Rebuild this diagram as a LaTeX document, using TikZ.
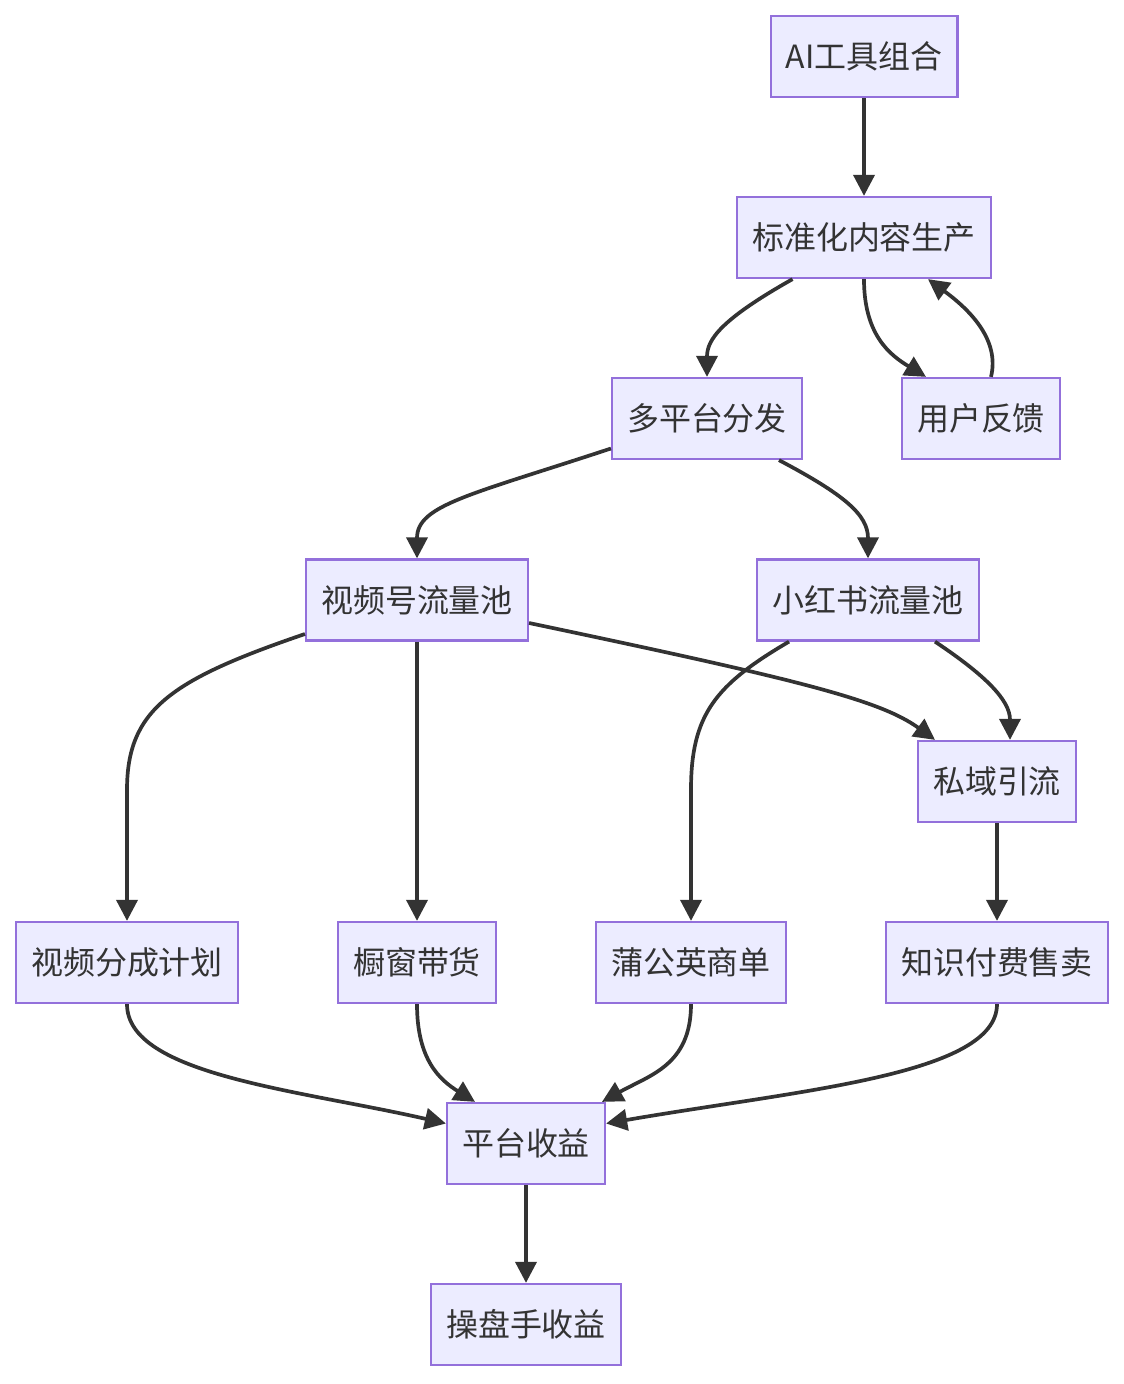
\documentclass[tikz,border=0pt]{standalone}
\usepackage{fontspec}
\setmainfont{Noto Sans CJK SC}
\usepackage{tikz}
\usetikzlibrary{arrows.meta}
\definecolor{mmfill}{HTML}{ECECFF}
\definecolor{mmline}{HTML}{9370DB}
\definecolor{mmedge}{HTML}{333333}
\tikzset{
  flownode/.style={rectangle,draw=mmline,fill=mmfill,line width=1.3pt,minimum height=1.62cm,
    inner xsep=0.3cm,text=mmedge,font=\fontsize{18.2}{22}\selectfont},
  flowedge/.style={-{Triangle[length=12pt,width=12pt]},line width=2.1pt,mmedge},
}
\begin{document}
\begin{tikzpicture}[x=0.02cm,y=-0.02cm]
  \useasboundingbox (0,0) rectangle (1124,1384);
  \node[flownode] (nAI) at (864,56.5) {AI工具组合};
  \node[flownode] (nStd) at (864,237.5) {标准化内容生产};
  \node[flownode] (nMulti) at (707,418.5) {多平台分发};
  \node[flownode] (nFb) at (981,418.5) {用户反馈};
  \node[flownode] (nVid) at (417,600) {视频号流量池};
  \node[flownode] (nRed) at (868,600) {小红书流量池};
  \node[flownode] (nPriv) at (997,781.5) {私域引流};
  \node[flownode] (nFen) at (127,962.5) {视频分成计划};
  \node[flownode] (nShop) at (417,962.5) {橱窗带货};
  \node[flownode] (nDand) at (691,962.5) {蒲公英商单};
  \node[flownode] (nKnow) at (997,962.5) {知识付费售卖};
  \node[flownode] (nPlat) at (526,1143.5) {平台收益};
  \node[flownode] (nOp) at (526,1324.5) {操盘手收益};
  \draw[flowedge] (nAI) -- (nStd);
  \draw[flowedge] ([xshift=-1.43cm]nStd.south) .. controls (720,320) and (707,340) .. (nMulti.north);
  \draw[flowedge] (nStd.south) .. controls (864,335) and (890,355) .. ([xshift=-1.1cm]nFb.north);
  \draw[flowedge] ([xshift=0.2cm]nFb.north) .. controls (1000,340) and (970,310) .. ([xshift=1.28cm]nStd.south);
  \draw[flowedge] ([yshift=-0.6cm]nMulti.west) .. controls (470,495) and (417,505) .. (nVid.north);
  \draw[flowedge] ([xshift=1.44cm]nMulti.south) .. controls (845,495) and (868,515) .. (nRed.north);
  \draw[flowedge] ([yshift=-0.68cm]nVid.west) .. controls (170,680) and (127,710) .. (127,790) -- (nFen.north);
  \draw[flowedge] (nVid) -- (nShop);
  \draw[flowedge] ([yshift=-0.46cm]nVid.east) .. controls (800,680) and (880,700) .. ([xshift=-1.24cm]nPriv.north);
  \draw[flowedge] ([xshift=-1.58cm]nRed.south) .. controls (715,685) and (691,715) .. (691,790) -- (nDand.north);
  \draw[flowedge] ([xshift=1.34cm]nRed.south) .. controls (985,675) and (1010,700) .. ([xshift=0.26cm]nPriv.north);
  \draw[flowedge] (nPriv) -- (nKnow);
  \draw[flowedge] (nFen.south) .. controls (127,1075) and (300,1090) .. ([yshift=0.4cm]nPlat.west);
  \draw[flowedge] (nShop.south) .. controls (417,1060) and (440,1080) .. ([xshift=-1.02cm]nPlat.north);
  \draw[flowedge] (nDand.south) .. controls (691,1065) and (650,1075) .. ([xshift=1.52cm]nPlat.north);
  \draw[flowedge] (nKnow.south) .. controls (997,1075) and (800,1090) .. ([yshift=0.4cm]nPlat.east);
  \draw[flowedge] (nPlat) -- (nOp);
\end{tikzpicture}
\end{document}
